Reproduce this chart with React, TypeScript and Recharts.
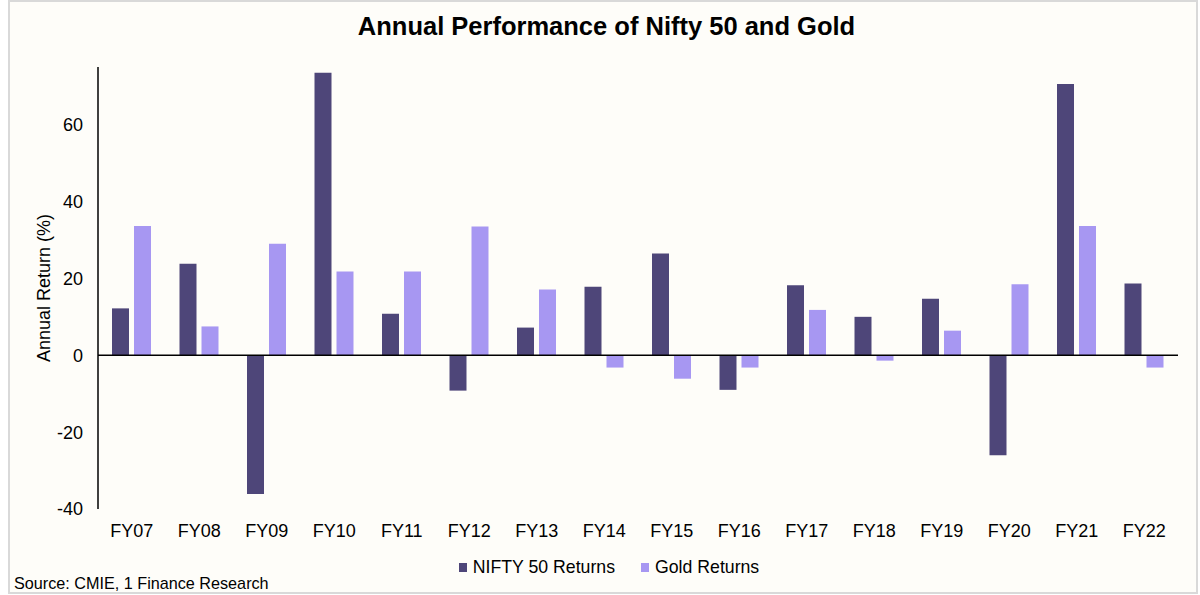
import { Bar, BarChart, Legend, ReferenceLine, XAxis, YAxis } from "recharts";

const years = ["FY07", "FY08", "FY09", "FY10", "FY11", "FY12", "FY13", "FY14", "FY15", "FY16", "FY17", "FY18", "FY19", "FY20", "FY21", "FY22"];
const niftyReturns = [12.2, 23.8, -36.1, 73.5, 10.8, -9.2, 7.2, 17.8, 26.5, -9.0, 18.2, 10.0, 14.7, -26.0, 70.6, 18.7];
const goldReturns = [33.6, 7.5, 29.0, 21.8, 21.8, 33.5, 17.1, -3.2, -6.1, -3.2, 11.8, -1.4, 6.4, 18.5, 33.6, -3.2];
const yTicks = [-40, -20, 0, 20, 40, 60];

const data = years.map((year, i) => ({ year, nifty: niftyReturns[i], gold: goldReturns[i] }));

const font = "'Liberation Sans', Arial, sans-serif";
const niftyColor = "#4E4679";
const goldColor = "#A797F2";

function LegendContent() {
  const items = [
    { label: "NIFTY 50 Returns", color: niftyColor },
    { label: "Gold Returns", color: goldColor },
  ];
  return (
    <div style={{ display: "flex", justifyContent: "center", alignItems: "center", height: 22, paddingLeft: 12, fontFamily: font, fontSize: 17.7, color: "#000" }}>
      {items.map((item, i) => (
        <div key={item.label} style={{ display: "flex", alignItems: "center", marginLeft: i === 0 ? 0 : 26 }}>
          <span style={{ width: 8, height: 9, background: item.color, marginRight: 6, display: "inline-block" }} />
          <span>{item.label}</span>
        </div>
      ))}
    </div>
  );
}

export default function App() {
  return (
    <div
      style={{
        position: "absolute",
        left: 8,
        top: 0,
        width: 1190,
        height: 594,
        boxSizing: "border-box",
        border: "2px solid #D9D9D9",
        background: "#FEFDF9",
        fontFamily: font,
      }}
    >
      <div style={{ position: "absolute", left: 0, top: 12, width: "100%", paddingLeft: 7, boxSizing: "border-box", textAlign: "center", fontSize: 25.5, lineHeight: "25px", fontWeight: "bold", color: "#000" }}>
        Annual Performance of Nifty 50 and Gold
      </div>
      <BarChart width={1186} height={590} data={data} margin={{ top: 65, right: 18, bottom: 53, left: 29 }} barSize={17} barGap={5}>
        <XAxis dataKey="year" axisLine={false} tickLine={false} tickSize={0} tickMargin={15} height={30} tick={{ fill: "#000", fontSize: 18, fontFamily: font }} />
        <YAxis
          domain={[-40, 75]}
          ticks={yTicks}
          width={59}
          tickLine={false}
          tickSize={0}
          tickMargin={15}
          axisLine={{ stroke: "#000", strokeWidth: 1.5 }}
          tick={{ fill: "#000", fontSize: 18, fontFamily: font }}
          label={{ value: "Annual Return (%)", angle: -90, position: "insideLeft", style: { textAnchor: "middle", fill: "#000", fontSize: 18, fontFamily: font } }}
        />
        <Bar dataKey="nifty" name="NIFTY 50 Returns" fill={niftyColor} isAnimationActive={false} />
        <Bar dataKey="gold" name="Gold Returns" fill={goldColor} isAnimationActive={false} />
        <ReferenceLine y={0} stroke="#000" strokeWidth={1.5} />
        <Legend layout="horizontal" verticalAlign="middle" align="center" content={<LegendContent />} wrapperStyle={{ top: 554, left: 0, width: 1186 }} />
      </BarChart>
      <div style={{ position: "absolute", left: 4, top: 573, fontSize: 16.2, lineHeight: "16px", color: "#000" }}>Source: CMIE, 1 Finance Research</div>
    </div>
  );
}
